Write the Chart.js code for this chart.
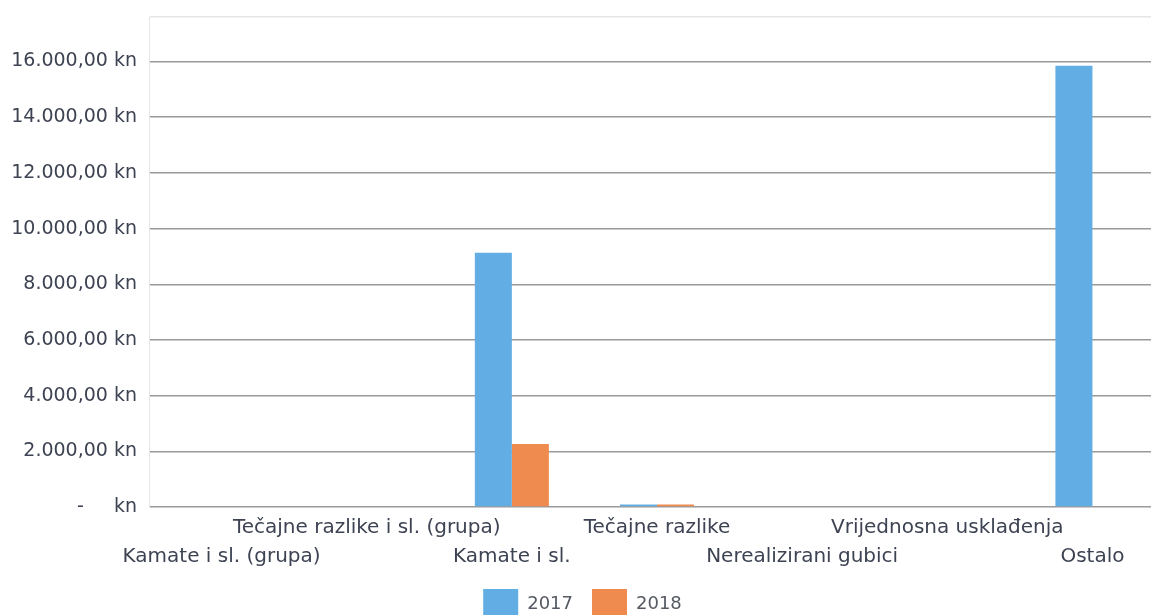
<!DOCTYPE html>
<html>
<head>
<meta charset="utf-8">
<script src="https://cdn.jsdelivr.net/npm/chart.js@4"></script>
<style>
  html, body { margin: 0; padding: 0; background: #fff; overflow: hidden; }
  #wrap { width: 1180px; height: 640px; }
</style>
</head>
<body>
<div id="wrap"><canvas id="costChart" width="1180" height="640"></canvas></div>
<script>
// chart data
const categories = [
  "Kamate i sl. (grupa)",
  "Tečajne razlike i sl. (grupa)",
  "Kamate i sl.",
  "Tečajne razlike",
  "Nerealizirani gubici",
  "Vrijednosna usklađenja",
  "Ostalo"
];
const seriesNames = ["2017", "2018"];
const values2017 = [0, 0, 9130, 90, 0, 0, 15850];
const values2018 = [0, 0, 2260, 90, 0, 0, 0];
const yTicks = [0, 2000, 4000, 6000, 8000, 10000, 12000, 14000, 16000];
const yMax = 17600;

// stagger the category labels on two rows
const staggered = categories.map((c, i) => (i % 2 === 0 ? ["", c] : [c, ""]));

const fmt = (v) => {
  if (v === 0) return "-     kn";
  return v.toLocaleString("de-DE", { minimumFractionDigits: 2, maximumFractionDigits: 2 }) + " kn";
};

const textColor = "#3d4352";

new Chart(document.getElementById("costChart"), {
  type: "bar",
  data: {
    labels: staggered,
    datasets: [
      {
        label: seriesNames[0],
        data: values2017,
        backgroundColor: "#62aee4",
        borderWidth: 0,
        categoryPercentage: 0.51,
        barPercentage: 1,
      },
      {
        label: seriesNames[1],
        data: values2018,
        backgroundColor: "#ef8b4f",
        borderWidth: 0,
        categoryPercentage: 0.51,
        barPercentage: 1,
      },
    ],
  },
  options: {
    responsive: false,
    animation: false,
    layout: { padding: { top: 17, right: 15, bottom: 11, left: 0 } },
    plugins: {
      tooltip: { enabled: false },
      legend: {
        position: "bottom",
        labels: {
          boxWidth: 35,
          boxHeight: 30,
          padding: 19,
          color: "#555a62",
          font: { family: "DejaVu Sans", size: 18 },
        },
      },
    },
    scales: {
      x: {
        afterFit: (scale) => {
          scale.height -= 7;
        },
        grid: { display: false, drawTicks: false },
        border: { display: false },
        ticks: {
          autoSkip: false,
          maxRotation: 0,
          padding: 6,
          color: textColor,
          font: { family: "DejaVu Sans", size: 20, lineHeight: 1.45 },
        },
      },
      y: {
        min: 0,
        max: yMax,
        afterBuildTicks: (scale) => {
          scale.ticks = yTicks.concat([yMax]).map((v) => ({ value: v }));
        },
        afterFit: (scale) => {
          scale.width = 149;
          scale.paddingTop = 0;
          scale.paddingBottom = 0;
        },
        grid: {
          drawTicks: false,
          lineWidth: 1.5,
          color: (ctx) => (ctx.tick && ctx.tick.value === yMax ? "#e6e6e6" : "#9a9a9a"),
        },
        border: { display: true, color: "#e6e6e6", width: 1 },
        ticks: {
          padding: 12,
          color: textColor,
          font: { family: "DejaVu Sans", size: 19 },
          callback: (v) => (v === yMax ? "" : fmt(v)),
        },
      },
    },
  },
});
</script>
</body>
</html>
